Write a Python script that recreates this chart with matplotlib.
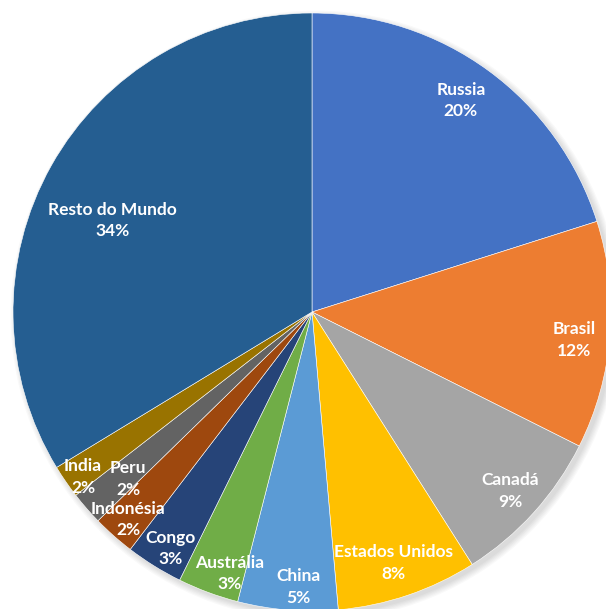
import matplotlib.pyplot as plt
import numpy as np
from matplotlib.patches import Circle

countries = ["Russia", "Brasil", "Canadá", "Estados Unidos", "China",
             "Austrália", "Congo", "Indonésia", "Peru", "India",
             "Resto do Mundo"]
shares = [20.1, 12.3, 8.6, 7.6, 5.4, 3.3, 3.1, 2.3, 1.8, 1.8, 33.7]
colors = ["#4472C4", "#ED7D31", "#A5A5A5", "#FFC000", "#5B9BD5",
          "#70AD47", "#264478", "#9E480E", "#636363", "#997300",
          "#255E91"]
# data label placement: radius (fraction) and angle nudge (deg) from mid-angle
label_r = [0.864, 0.881, 0.893, 0.882, 0.921, 0.918, 0.921, 0.926, 0.831,
           0.944, 0.735]
label_nudge = [1.0, -1.6, 0.0, -0.8, 1.8, 2.9, 0.9, 0.0, 1.2, 1.2, 4.8]

plt.rcParams["font.family"] = ["Lato", "DejaVu Sans"]

fig = plt.figure(figsize=(6.06, 6.09), dpi=100)
ax = fig.add_axes([0, 0, 1, 1])

# soft shadow around the pie
for k in range(6):
    ax.add_patch(Circle((0.012, -0.012), 1.0 + 0.004 * k, color="black",
                        alpha=0.025, zorder=0, lw=0))

wedges, _ = ax.pie(
    shares,
    colors=colors,
    startangle=90,
    counterclock=False,
    radius=1.0,
    wedgeprops={"edgecolor": "white", "linewidth": 0.4},
)

total = sum(shares)
for w, name, v, r, dn in zip(wedges, countries, shares, label_r, label_nudge):
    mid = np.deg2rad((w.theta1 + w.theta2) / 2 + dn)
    ax.text(r * np.cos(mid), r * np.sin(mid),
            f"{name}\n{round(100 * v / total)}%",
            ha="center", va="center", color="white",
            fontsize=12.5, fontweight="bold", linespacing=1.4)

scale = 299
ax.set_xlim(-312 / scale, (606 - 312) / scale)
ax.set_ylim(-(609 - 312) / scale, 312 / scale)
ax.set_aspect("equal")
ax.axis("off")

fig.savefig("out.png", dpi=100)
